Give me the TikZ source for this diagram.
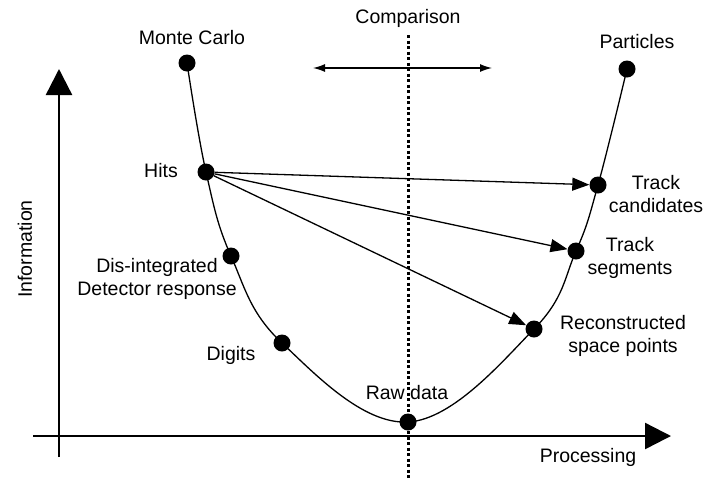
\documentclass[tikz,border=0pt]{standalone}
\usepackage{fontspec}
\setmainfont{Liberation Sans}
\usetikzlibrary{arrows.meta}

\tikzset{
  dot/.style={circle, fill=black, inner sep=0pt, minimum size=17pt},
  lbl/.style={font=\fontsize{19.5}{23}\selectfont, align=center, inner sep=0pt},
  axis/.style={line width=2.4pt, -{Triangle[length=26pt,width=26pt]}},
  flow/.style={line width=1.3pt, -{Triangle[length=17pt,width=13pt]}},
}

\begin{document}
\begin{tikzpicture}[x=1pt,y=-1pt]
        \useasboundingbox (0,0) rectangle (703,480);
        % axes
        \coordinate (yfoot) at (59,457);
        \coordinate (ytop) at (59,69);
        \coordinate (xfoot) at (33,436);
        \coordinate (xtip) at (671,436);
        \draw[axis] (yfoot) -- (ytop);
        \draw[axis] (xfoot) -- (xtip);
        \node[lbl, rotate=90] (info) at (25,249) {Information};
        \node[lbl] (proc) at (588,457) {Processing};
        % comparison line
        \coordinate (ctop) at (408,35);
        \coordinate (cbot) at (408,480);
        \draw[line width=3pt, dash pattern=on 3pt off 2.5pt] (ctop) -- (cbot);
        \node[lbl] (cmp) at (408,18) {Comparison};
        \coordinate (cmpL) at (313,68);
        \coordinate (cmpR) at (492,68);
        \draw[line width=1.3pt, {Latex[length=12pt,width=8pt]}-{Latex[length=12pt,width=8pt]}] (cmpL) -- (cmpR);
        % stages
        \node[dot] (mc) at (187,63) {};
        \node[dot] (hits) at (206,172) {};
        \node[dot] (dis) at (231,256) {};
        \node[dot] (dig) at (282,343) {};
        \node[dot] (raw) at (408,422) {};
        \node[dot] (rec) at (534,329) {};
        \node[dot] (seg) at (576,251) {};
        \node[dot] (cand) at (598,185) {};
        \node[dot] (part) at (627,69) {};
        \draw[line width=1.3pt] plot[smooth, tension=0.65] coordinates {(mc.center) (hits.center) (dis.center) (dig.center) (raw.center) (rec.center) (seg.center) (cand.center) (part.center)};
        \node[lbl] (mcl) at (192,38) {Monte Carlo};
        \node[lbl] (hitsl) at (161,171) {Hits};
        \node[lbl] (disl) at (157,279) {Dis-integrated\\Detector response};
        \node[lbl] (digl) at (231,355) {Digits};
        \node[lbl] (rawl) at (407,393) {Raw data};
        \node[lbl] (recl) at (623,336) {Reconstructed\\space points};
        \node[lbl] (segl) at (630,258) {Track\\segments};
        \node[lbl] (candl) at (656,194) {Track\\candidates};
        \node[lbl] (partl) at (637,42) {Particles};
        % reconstruction arrows
        \draw[flow] (hits) -- (cand);
        \draw[flow] (hits) -- (seg);
        \draw[flow] (hits) -- (rec);
      \end{tikzpicture}
\end{document}
